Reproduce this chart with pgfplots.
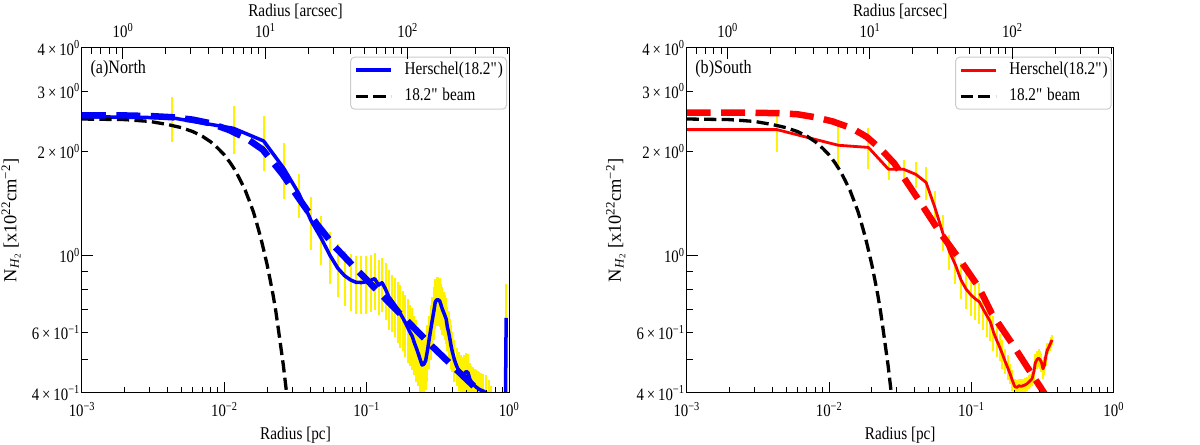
\documentclass[border=0pt]{standalone}
\usepackage{fontspec}
\setmainfont{Liberation Serif}[FakeStretch=0.85]
\newfontfamily\plainserif{Liberation Serif}
\usepackage{pgfplots}
\pgfplotsset{compat=1.18}
\usepackage{pgfplotstable}
\newcommand{\tsup}[1]{\textsuperscript{#1}}

\pgfplotstableread{
r v e
0.001 2.53 0
0.0043 2.51 0.37
0.0116 2.34 0.37
0.0189 2.15 0.39
0.0262 1.79 0.33
0.0335 1.51 0.22
0.0408 1.26 0.22
0.0481 1.12 0.18
0.0554 1.00 0.17
0.0627 0.92 0.16
0.0700 0.875 0.16
0.0773 0.85 0.16
0.0846 0.837 0.16
0.0919 0.836 0.16
0.0992 0.840 0.16
0.1065 0.848 0.16
0.1138 0.858 0.16
0.1211 0.822 0.15
0.1284 0.835 0.15
0.1357 0.800 0.15
0.1430 0.760 0.15
0.1503 0.740 0.14
0.1576 0.720 0.14
0.1649 0.700 0.14
0.1722 0.680 0.14
0.1795 0.660 0.13
0.1868 0.640 0.13
0.1941 0.620 0.13
0.2014 0.600 0.12
0.2087 0.585 0.12
0.2160 0.560 0.11
0.2233 0.540 0.11
0.2306 0.520 0.10
0.2379 0.500 0.10
0.2452 0.482 0.09
0.2525 0.485 0.09
0.2598 0.497 0.09
0.2671 0.530 0.10
0.2744 0.570 0.10
0.2817 0.610 0.11
0.2890 0.650 0.11
0.2963 0.690 0.12
0.3036 0.735 0.12
0.3109 0.745 0.12
0.3182 0.745 0.12
0.3255 0.740 0.12
0.3328 0.720 0.11
0.3401 0.700 0.11
0.3474 0.685 0.10
0.3547 0.670 0.10
0.3620 0.655 0.10
0.3693 0.620 0.09
0.3766 0.600 0.09
0.3839 0.575 0.08
0.3912 0.550 0.08
0.3985 0.530 0.07
0.4131 0.500 0.07
0.4277 0.480 0.06
0.4423 0.465 0.06
0.4569 0.455 0.06
0.4715 0.450 0.06
0.4861 0.455 0.06
0.5007 0.462 0.06
0.5153 0.458 0.06
0.5299 0.440 0.05
0.5445 0.430 0.05
0.5591 0.425 0.05
0.5737 0.420 0.05
0.5883 0.416 0.05
0.6029 0.413 0.05
0.6175 0.410 0.05
0.6321 0.408 0.05
0.6613 0.405 0.05
0.6905 0.400 0.05
0.7197 0.395 0.04
0.7489 0.380 0.04
0.7781 0.360 0.04
0.8073 0.340 0.04
0.8365 0.330 0.04
0.8657 0.320 0.04
0.8949 0.310 0.04
0.9400 0.300 0.04
0.9550 0.660 0.17
}\northdata

\pgfplotstableread{
r v e
0.001 2.32 0
0.0043 2.32 0.32
0.0116 2.09 0.30
0.0189 2.06 0.28
0.0262 1.78 0.12
0.0335 1.78 0.12
0.0408 1.72 0.15
0.0481 1.63 0.18
0.0554 1.38 0.16
0.0627 1.17 0.14
0.0700 1.03 0.12
0.0773 0.94 0.11
0.0846 0.85 0.10
0.0919 0.80 0.10
0.0992 0.77 0.10
0.1065 0.75 0.10
0.1138 0.735 0.10
0.1211 0.70 0.09
0.1284 0.67 0.09
0.1357 0.645 0.08
0.1430 0.60 0.07
0.1503 0.57 0.06
0.1576 0.545 0.05
0.1649 0.52 0.05
0.1722 0.495 0.04
0.1795 0.475 0.04
0.1868 0.455 0.03
0.1941 0.435 0.03
0.2014 0.418 0.02
0.2087 0.415 0.02
0.2160 0.420 0.02
0.2233 0.418 0.02
0.2306 0.420 0.02
0.2379 0.422 0.02
0.2452 0.425 0.02
0.2525 0.430 0.02
0.2598 0.435 0.02
0.2671 0.440 0.02
0.2744 0.460 0.03
0.2817 0.490 0.03
0.2890 0.500 0.03
0.2963 0.505 0.03
0.3036 0.500 0.03
0.3109 0.490 0.03
0.3182 0.470 0.03
0.3255 0.480 0.03
0.3328 0.510 0.03
0.3401 0.530 0.03
0.3474 0.540 0.02
0.3547 0.550 0.02
0.3620 0.560 0.02
0.3693 0.570 0.02
}\southdata

\pgfplotstableread{
r v
0.001 2.55
0.002 2.55
0.003 2.54
0.0043 2.52
0.006 2.48
0.008 2.42
0.0109 2.31
0.0145 2.18
0.0186 2.03
0.0257 1.72
0.0336 1.46
0.045 1.23
0.06 1.06
0.0843 0.915
0.13 0.763
0.21 0.624
0.29 0.545
0.47 0.450
0.70 0.385
0.85 0.36
}\northfit

\pgfplotstableread{
r v
0.001 2.60
0.002 2.60
0.0043 2.59
0.006 2.57
0.008 2.52
0.0106 2.45
0.0145 2.34
0.0184 2.21
0.0233 2.03
0.0288 1.85
0.0350 1.64
0.0427 1.45
0.060 1.17
0.0835 0.97
0.1127 0.81
0.139 0.68
0.194 0.555
0.269 0.45
0.325 0.40
0.37 0.37
}\southfit

\pgfplotstableread{
r v
0.001 2.49
0.002 2.48
0.003 2.45
0.004 2.40
0.005 2.35
0.006 2.29
0.007 2.22
0.008 2.14
0.009 2.05
0.010 1.96
0.011 1.86
0.012 1.76
0.013 1.65
0.014 1.55
0.015 1.44
0.016 1.34
0.017 1.23
0.018 1.13
0.019 1.03
0.020 0.94
0.021 0.85
0.022 0.77
0.023 0.69
0.024 0.61
0.025 0.54
0.026 0.48
0.027 0.42
0.028 0.37
0.029 0.32
}\beamdata

\definecolor{legframe}{RGB}{204,204,204}

\begin{document}
\begin{tikzpicture}[x=1bp,y=1bp]
\path[use as bounding box] (0,0) rectangle (1200,445);

% ---------- (a) North ----------
\begin{axis}[at={(82bp,52bp)}, anchor=south west,
    scale only axis, width=427bp, height=345bp,
    xmode=log, ymode=log, xmin=1e-3, xmax=1, ymin=0.4, ymax=4,
    axis line style={line width=1bp},
    tick align=inside, xtick pos=left, ytick pos=left,
    major tick length=6.5bp, minor tick length=6.5bp,
    tick style={black, line width=1bp},
    xtick={0.001,0.01,0.1,1},
    xticklabels={10\tsup{−3},10\tsup{−2},10\tsup{−1},10\tsup{0}},
    minor xtick={0.002,0.003,0.004,0.005,0.006,0.007,0.008,0.009,0.02,0.03,0.04,0.05,0.06,0.07,0.08,0.09,0.2,0.3,0.4,0.5,0.6,0.7,0.8,0.9},
    ytick={0.4,0.6,2,3,4},
    yticklabels={4\,×\,10\tsup{−1},6\,×\,10\tsup{−1},2\,×\,10\tsup{0},3\,×\,10\tsup{0},4\,×\,10\tsup{0}},
    minor ytick={0.5,0.7,0.8,0.9},
    tick label style={font=\fontsize{17.5}{17.5}\selectfont},
    xticklabel style={inner sep=0pt, yshift=-9bp},
    yticklabel style={inner sep=0pt, xshift=-2bp},
    xlabel={Radius [pc]},
    ylabel={N\textsubscript{\textit{H}\textsubscript{2}} [x10\tsup{22}cm\tsup{−2}]},
    xlabel style={font=\fontsize{18}{18}\selectfont, at={(axis description cs:0.5,-0.1217)}, anchor=center},
    ylabel style={font=\plainserif\fontsize{18.5}{18.5}\selectfont, at={(axis description cs:-0.166,0.5)}, anchor=center},
    legend style={at={(axis description cs:1,1)}, anchor=north east, xshift=-2bp, yshift=-8.7bp,
      draw=legframe, rounded corners=4bp, line width=1bp,
      font=\fontsize{18}{18}\selectfont, inner xsep=3.5bp, inner ysep=5bp,
      row sep=10bp, column sep=12bp,
      nodes={inner sep=0pt, text height=12.5bp, text depth=3.5bp}},
    legend cell align=left,
    legend image code/.code={\draw[#1] (0bp,0bp) -- (35bp,0bp);},
  ]
\addplot[forget plot, draw=none, mark=none, skip coords between index={0}{1},
   error bars/.cd, y dir=both, y explicit, error mark=none,
   error bar style={draw=yellow, line width=2bp, solid}]
   table[x=r, y=v, y error=e] {\northdata};
\addplot[blue, line width=3.5bp, line join=round] table[x=r, y=v] {\northdata};
\addlegendentry{Herschel(18.2\textquotedbl)}
\addplot[black, line width=3.3bp, dash pattern=on 12.2bp off 5.3bp] table[x=r, y=v] {\beamdata};
\addlegendentry{18.2\textquotedbl{} beam}
\addplot[forget plot, blue, line width=6.5bp, dash pattern=on 24bp off 10.4bp] table[x=r, y=v] {\northfit};
\node[anchor=base west, font=\fontsize{19}{19}\selectfont] at (axis description cs:0.012,0.9246) {(a)North};
\end{axis}
% long major ticks and the 10^0 label
\begin{axis}[at={(82bp,52bp)}, anchor=south west,
    scale only axis, width=427bp, height=345bp,
    xmode=log, ymode=log, xmin=1e-3, xmax=1, ymin=0.4, ymax=4,
    axis line style={line width=1bp},
    tick align=inside, xtick pos=left, ytick pos=left,
    major tick length=11.5bp,
    tick style={black, line width=1bp},
    xtick={0.001,0.01,0.1,1}, xticklabels={{},{},{},{}},
    minor xtick={}, minor ytick={},
    ytick={1}, yticklabels={10\tsup{0}},
    tick label style={font=\fontsize{17.5}{17.5}\selectfont},
    yticklabel style={inner sep=0pt, xshift=-2bp},
  ]
\end{axis}
\begin{axis}[at={(82bp,52bp)}, anchor=south west,
    scale only axis, width=427bp, height=345bp,
    xmode=log, xmin=0.5157, xmax=515.7, ymin=0, ymax=1,
    axis y line=none, axis x line*=top, axis line style={line width=1bp},
    tick align=inside,
    major tick length=11.5bp, minor tick length=6bp,
    tick style={black, line width=1bp},
    xtick={1,10,100},
    xticklabels={10\tsup{0},10\tsup{1},10\tsup{2}},
    minor xtick={0.6,0.7,0.8,0.9,2,3,4,5,6,7,8,9,20,30,40,50,60,70,80,90,200,300,400,500},
    ytick=\empty,
    tick label style={font=\fontsize{17.5}{17.5}\selectfont},
    xticklabel style={inner sep=0pt, yshift=10bp},
    xlabel={Radius [arcsec]},
    xlabel style={font=\fontsize{18}{18}\selectfont, at={(axis description cs:0.5,1.107)}, anchor=center},
  ]
\end{axis}

% ---------- (b) South ----------
\begin{axis}[at={(686.7bp,52bp)}, anchor=south west,
    scale only axis, width=427bp, height=345bp,
    xmode=log, ymode=log, xmin=1e-3, xmax=1, ymin=0.4, ymax=4,
    axis line style={line width=1bp},
    tick align=inside, xtick pos=left, ytick pos=left,
    major tick length=6.5bp, minor tick length=6.5bp,
    tick style={black, line width=1bp},
    xtick={0.001,0.01,0.1,1},
    xticklabels={10\tsup{−3},10\tsup{−2},10\tsup{−1},10\tsup{0}},
    minor xtick={0.002,0.003,0.004,0.005,0.006,0.007,0.008,0.009,0.02,0.03,0.04,0.05,0.06,0.07,0.08,0.09,0.2,0.3,0.4,0.5,0.6,0.7,0.8,0.9},
    ytick={0.4,0.6,2,3,4},
    yticklabels={4\,×\,10\tsup{−1},6\,×\,10\tsup{−1},2\,×\,10\tsup{0},3\,×\,10\tsup{0},4\,×\,10\tsup{0}},
    minor ytick={0.5,0.7,0.8,0.9},
    tick label style={font=\fontsize{17.5}{17.5}\selectfont},
    xticklabel style={inner sep=0pt, yshift=-9bp},
    yticklabel style={inner sep=0pt, xshift=-2bp},
    xlabel={Radius [pc]},
    ylabel={N\textsubscript{\textit{H}\textsubscript{2}} [x10\tsup{22}cm\tsup{−2}]},
    xlabel style={font=\fontsize{18}{18}\selectfont, at={(axis description cs:0.5,-0.1217)}, anchor=center},
    ylabel style={font=\plainserif\fontsize{18.5}{18.5}\selectfont, at={(axis description cs:-0.166,0.5)}, anchor=center},
    legend style={at={(axis description cs:1,1)}, anchor=north east, xshift=-2bp, yshift=-8.7bp,
      draw=legframe, rounded corners=4bp, line width=1bp,
      font=\fontsize{18}{18}\selectfont, inner xsep=3.5bp, inner ysep=5bp,
      row sep=10bp, column sep=12bp,
      nodes={inner sep=0pt, text height=12.5bp, text depth=3.5bp}},
    legend cell align=left,
    legend image code/.code={\draw[#1] (0bp,0bp) -- (35bp,0bp);},
  ]
\addplot[forget plot, draw=none, mark=none, skip coords between index={0}{1},
   error bars/.cd, y dir=both, y explicit, error mark=none,
   error bar style={draw=yellow, line width=2bp, solid}]
   table[x=r, y=v, y error=e] {\southdata};
\addplot[red, line width=2.8bp, line join=round] table[x=r, y=v] {\southdata};
\addlegendentry{Herschel(18.2\textquotedbl)}
\addplot[black, line width=3.3bp, dash pattern=on 12.2bp off 5.3bp] table[x=r, y=v] {\beamdata};
\addlegendentry{18.2\textquotedbl{} beam}
\addplot[forget plot, red, line width=6.5bp, dash pattern=on 24bp off 10.4bp] table[x=r, y=v] {\southfit};
\node[anchor=base west, font=\fontsize{19}{19}\selectfont] at (axis description cs:0.012,0.9246) {(b)South};
\end{axis}
\begin{axis}[at={(686.7bp,52bp)}, anchor=south west,
    scale only axis, width=427bp, height=345bp,
    xmode=log, ymode=log, xmin=1e-3, xmax=1, ymin=0.4, ymax=4,
    axis line style={line width=1bp},
    tick align=inside, xtick pos=left, ytick pos=left,
    major tick length=11.5bp,
    tick style={black, line width=1bp},
    xtick={0.001,0.01,0.1,1}, xticklabels={{},{},{},{}},
    minor xtick={}, minor ytick={},
    ytick={1}, yticklabels={10\tsup{0}},
    tick label style={font=\fontsize{17.5}{17.5}\selectfont},
    yticklabel style={inner sep=0pt, xshift=-2bp},
  ]
\end{axis}
\begin{axis}[at={(686.7bp,52bp)}, anchor=south west,
    scale only axis, width=427bp, height=345bp,
    xmode=log, xmin=0.5157, xmax=515.7, ymin=0, ymax=1,
    axis y line=none, axis x line*=top, axis line style={line width=1bp},
    tick align=inside,
    major tick length=11.5bp, minor tick length=6bp,
    tick style={black, line width=1bp},
    xtick={1,10,100},
    xticklabels={10\tsup{0},10\tsup{1},10\tsup{2}},
    minor xtick={0.6,0.7,0.8,0.9,2,3,4,5,6,7,8,9,20,30,40,50,60,70,80,90,200,300,400,500},
    ytick=\empty,
    tick label style={font=\fontsize{17.5}{17.5}\selectfont},
    xticklabel style={inner sep=0pt, yshift=10bp},
    xlabel={Radius [arcsec]},
    xlabel style={font=\fontsize{18}{18}\selectfont, at={(axis description cs:0.5,1.107)}, anchor=center},
  ]
\end{axis}
\end{tikzpicture}
\end{document}
